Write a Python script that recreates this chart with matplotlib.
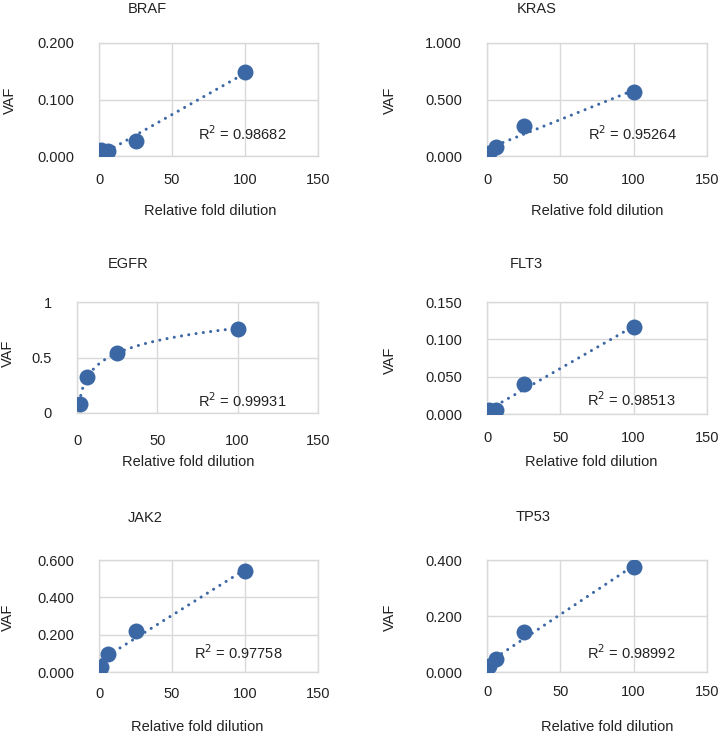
import numpy as np
import matplotlib.pyplot as plt

plt.rcParams['font.family'] = ['Liberation Sans', 'DejaVu Sans']

# data
dilution = [1.5625, 6.25, 25, 100]
genes = ["BRAF", "KRAS", "EGFR", "FLT3", "JAK2", "TP53"]
braf = [0.011, 0.009, 0.026, 0.149]
kras = [0.027, 0.083, 0.266, 0.565]
egfr = [0.084, 0.328, 0.543, 0.758]
flt3 = [0.006, 0.006, 0.040, 0.116]
jak2 = [0.027, 0.099, 0.220, 0.539]
tp53 = [0.022, 0.048, 0.143, 0.374]
vafs = [braf, kras, egfr, flt3, jak2, tp53]
r2_labels = ["0.98682", "0.95264", "0.99931", "0.98513", "0.97758", "0.98992"]
yticks = [[0, 0.1, 0.2], [0, 0.5, 1.0], [0, 0.5, 1],
          [0, 0.05, 0.1, 0.15], [0, 0.2, 0.4, 0.6], [0, 0.2, 0.4]]
ytick_fmt = ["%.3f", "%.3f", "%g", "%.3f", "%.3f", "%.3f"]
trend = ["linear", "linear", "log", "linear", "linear", "linear"]
xticks = [0, 50, 100, 150]

W, H = 718, 735
blue = "#3C67A5"
grid = "#d9d9d9"
txt = "#222222"

# layout in pixels: axes box (l, t, r, b), title (x, y), xlabel (x, y), ylabel (x, y), r2 text (ax frac)
boxes = [(99, 43, 318, 156), (487, 43, 707, 156), (77, 302, 318, 413),
         (487, 302, 707, 414), (99, 560, 318, 672), (487, 560, 707, 672)]
titles = [(147, 9), (537, 9), (128, 264), (526, 264), (145, 518), (533, 517)]
xlabs = [(210, 211), (597, 211), (188, 462), (591, 462), (197, 727), (607, 727)]
ylabs = [(10, 100), (390, 100), (8, 353), (390, 360), (8, 617), (390, 617)]
r2pos = [(0.45, 0.2), (0.46, 0.2), (0.5, 0.11), (0.455, 0.125), (0.435, 0.17), (0.455, 0.17)]
xpad = [12, 12, 15, 12, 11, 9]

fig = plt.figure(figsize=(W / 100, H / 100), dpi=100)

def fx(x):
    return x / W

def fy(y):
    return 1 - y / H

for i, g in enumerate(genes):
    l, t, r, b = boxes[i]
    ax = fig.add_axes([fx(l), fy(b), (r - l) / W, (b - t) / H])
    x = np.array(dilution)
    y = np.array(vafs[i])

    ax.plot(x, y, 'o', color=blue, markersize=11.5, markeredgewidth=0, zorder=3)

    if trend[i] == "log":
        a, c = np.polyfit(np.log(x), y, 1)
        xs = np.linspace(x[0], x[-1], 200)
        ys = a * np.log(xs) + c
    else:
        a, c = np.polyfit(x, y, 1)
        xs = np.array([x[0], x[-1]])
        ys = a * xs + c
    ax.plot(xs, ys, color=blue, lw=2.2, linestyle=(0, (0.01, 2.4)),
            dash_capstyle='round', zorder=4)

    ax.set_xlim(0, 150)
    ax.set_ylim(yticks[i][0], yticks[i][-1])
    ax.set_xticks(xticks)
    ax.set_yticks(yticks[i])
    ax.set_yticklabels([ytick_fmt[i] % v for v in yticks[i]])
    ax.tick_params(axis='both', length=0, labelsize=10.5, colors=txt)
    ax.tick_params(axis='x', pad=xpad[i])
    ax.tick_params(axis='y', pad=18)
    ax.grid(True, color=grid, lw=1)
    ax.set_axisbelow(True)
    for s in ax.spines.values():
        s.set_color(grid)
        s.set_linewidth(1)

    ax.text(r2pos[i][0], r2pos[i][1], "R$^2$ = " + r2_labels[i], transform=ax.transAxes,
            fontsize=10.5, color=txt, va='center', ha='left')

    fig.text(fx(titles[i][0]), fy(titles[i][1]), g, fontsize=10.5, color=txt,
             ha='center', va='center')
    fig.text(fx(xlabs[i][0]), fy(xlabs[i][1]), "Relative fold dilution", fontsize=10.5,
             color=txt, ha='center', va='center')
    fig.text(fx(ylabs[i][0]), fy(ylabs[i][1]), "VAF", fontsize=10.5, color=txt,
             ha='center', va='center', rotation=90)

fig.savefig("out.png", dpi=100, facecolor='white')
